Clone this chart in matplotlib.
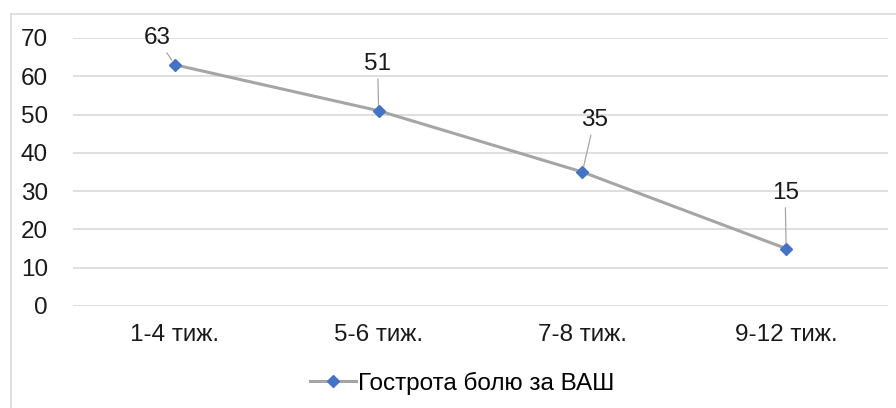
import matplotlib
matplotlib.use("Agg")
import matplotlib.pyplot as plt
from matplotlib.lines import Line2D

categories = ["1-4 тиж.", "5-6 тиж.", "7-8 тиж.", "9-12 тиж."]
values = [63, 51, 35, 15]
series_name = "Гострота болю за ВАШ"
yticks = [0, 10, 20, 30, 40, 50, 60, 70]

plt.rcParams['font.family'] = ['Liberation Sans', 'DejaVu Sans']

W, H = 896, 408
FS = 17.5
fig = plt.figure(figsize=(W / 100, H / 100), dpi=100)
ax = fig.add_axes([73 / W, 1 - 306 / H, (888 - 73) / W, (306 - 38) / H])

x = list(range(len(categories)))
ax.plot(x, values, color='#a5a5a5', lw=2.2, marker='D', markersize=6.5,
        markerfacecolor='#4472c4', markeredgecolor='#4472c4', zorder=3,
        label=series_name)

ax.set_xlim(-0.5, len(categories) - 0.5)
ax.set_ylim(0, 70)
ax.set_yticks(yticks)
ax.set_xticks(x)
ax.set_xticklabels(categories)
ax.tick_params(axis='both', length=0, labelsize=FS, colors='#1a1a1a')
ax.tick_params(axis='y', pad=18)
ax.tick_params(axis='x', pad=13)
ax.grid(axis='y', color='#d9d9d9', lw=1.2)
ax.set_axisbelow(True)
for s in ax.spines.values():
    s.set_visible(False)

# data labels with leader lines (offsets in pixels)
offsets = [(-18, 27), (-1, 47), (12, 52), (-1, 56)]
for xi, v, off in zip(x, values, offsets):
    ax.annotate(str(v), xy=(xi, v), xytext=off, textcoords='offset pixels',
                ha='center', va='center', fontsize=FS, color='#1a1a1a',
                arrowprops=dict(arrowstyle='-', color='#a6a6a6', lw=0.9,
                                shrinkA=1, shrinkB=4))

handle = Line2D([0], [0], color='#a5a5a5', lw=2.2, marker='D', markersize=6.5,
                markerfacecolor='#4472c4', markeredgecolor='#4472c4')
fig.legend([handle], [series_name], loc='center', bbox_to_anchor=(462 / W, 1 - 383 / H),
           frameon=False, fontsize=FS, handlelength=1.9, handletextpad=0.1)

# chart area border (top and left visible)
fig.add_artist(Line2D([11 / W, 1], [1 - 14 / H, 1 - 14 / H], color='#d9d9d9', lw=1.2))
fig.add_artist(Line2D([11 / W, 11 / W], [0, 1 - 14 / H], color='#d9d9d9', lw=1.2))

fig.savefig("out.png", dpi=100)
